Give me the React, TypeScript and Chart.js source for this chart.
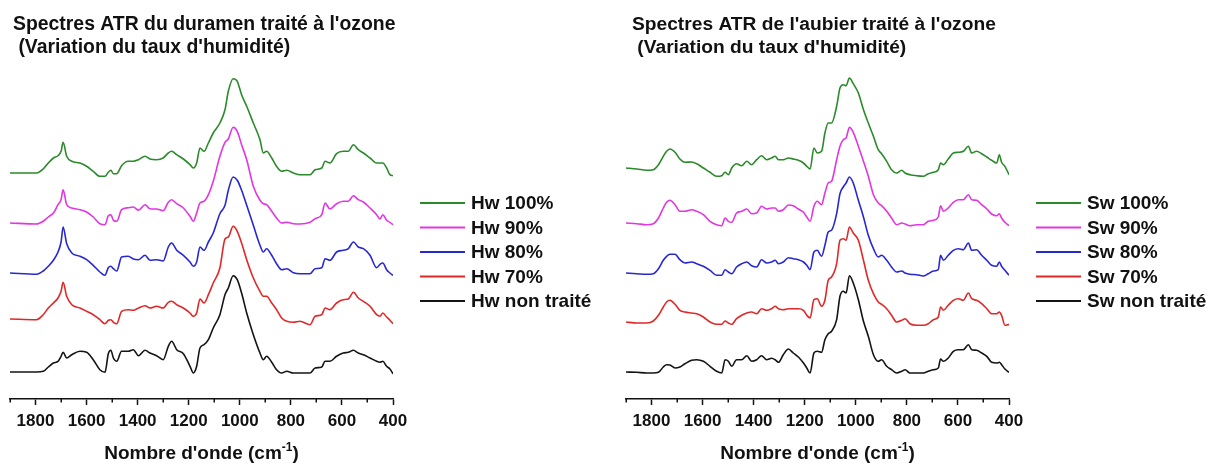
import React, { useEffect, useRef } from "react";
import { Chart, registerables } from "chart.js";

Chart.register(...registerables);

const FONT = '"Liberation Sans", Arial, Helvetica, sans-serif';

// ---------- axis ----------
const X_MIN = 400;
const X_MAX = 1900;
const MINOR_STEP = 100;
const MAJOR_STEP = 200;
const Y_MIN = 0;
const Y_MAX = 339;

// ---------- texts ----------
const titleLeft = ["Spectres ATR du duramen traité à l'ozone", " (Variation du taux d'humidité)"];
const titleRight = ["Spectres ATR de l'aubier traité à l'ozone", " (Variation du taux d'humidité)"];
const xTitleMain = "Nombre d'onde (cm";
const xTitleSup = "-1";
const xTitleEnd = ")";

const hwLabels = ["Hw 100%", "Hw 90%", "Hw 80%", "Hw 70%", "Hw non traité"];
const swLabels = ["Sw 100%", "Sw 90%", "Sw 80%", "Sw 70%", "Sw non traité"];
const seriesColors = ["#2b8a2b", "#e236e2", "#2828d2", "#e02828", "#141414"];

// ---------- heartwood (duramen) ----------
const waveLeft = [
  1900, 1796, 1770, 1750, 1730, 1712, 1700, 1692, 1678, 1658,
  1626, 1600, 1574, 1548, 1528, 1515, 1505, 1495, 1482, 1463,
  1437, 1417, 1397, 1371, 1352, 1326, 1300, 1280, 1267, 1247,
  1221, 1195, 1182, 1169, 1156, 1140, 1123, 1104, 1078, 1058,
  1045, 1026, 1010, 993, 973, 947, 921, 908, 895, 875,
  856, 836, 816, 790, 764, 725, 705, 679, 666, 647,
  621, 595, 575, 555, 536, 516, 490, 464, 451, 440,
  425, 412, 400,
];
const hw100 = [
  0, 0, 4, 10, 15, 17.3, 21.7, 30.7, 16.7, 11.7,
  10, 6.7, 1.7, -3.3, -3.3, 0.7, 2.7, -0.7, -0.7, 7.3,
  11.7, 11.7, 13.3, 16.7, 14, 13.3, 15, 20, 21.7, 18.3,
  14, 8.3, 5, 10, 25, 21.7, 30, 40, 50, 63.3,
  81.7, 94.3, 91.7, 78.3, 66.7, 50, 33.3, 20, 21.7, 15,
  6.7, 1.7, 2.7, 0, -1.7, -1.7, 3.3, 5, 11.7, 10,
  19.3, 21.7, 21.7, 28.3, 23.3, 20, 15, 10, 10, 10,
  5, -1.7, -2.7,
];
const hw90 = [
  0, -1, 1.7, 6, 10, 18.3, 23.3, 33.3, 18.3, 15,
  13.3, 11, 6, -0.7, -1.7, 7.3, 8.3, 2.7, 1.7, 13.3,
  15.3, 16, 12.7, 18.3, 14.3, 14, 12.3, 20.7, 23.3, 19.3,
  15, 6.7, 1.7, 10, 20, 21.7, 28.3, 41.7, 66.7, 80.7,
  84, 95.7, 91.7, 78.3, 63.3, 36.7, 22.7, 19.3, 18.3, 11.7,
  5, 0, 0.7, -0.7, -1, 0.7, 4.3, 8.3, 20, 14,
  19.3, 21.7, 21.7, 27.3, 23.3, 21, 15, 8.3, 4, 8.3,
  2.7, 0.7, -1.7,
];
const hw80 = [
  0, -1.3, 2, 6.7, 12.7, 21, 31, 46, 29.3, 20,
  16.7, 13.3, 7.7, 1, -2.3, 5.3, 6.7, 4.3, 2, 16,
  16.7, 14, 13.3, 17.7, 12.7, 13.3, 12, 26, 30, 22.7,
  17.7, 11, 6.7, 11, 26, 22.7, 31, 40, 59.3, 67.7,
  82.7, 96, 92.7, 82.7, 67.7, 47.7, 27.7, 21, 24.3, 17.7,
  9.3, 3.3, 4.3, 0.3, -0.7, -0.7, 4.3, 5.3, 14.3, 12.7,
  21, 22.7, 24.3, 31, 26, 24.3, 17.7, 5.3, 8.7, 10,
  3.3, 0, -2.3,
];
const hw70 = [
  0, -0.7, 4.3, 11, 16, 21, 27.7, 36.7, 22.7, 14.3,
  11, 7.7, 4.3, -0.7, -4.7, -1.3, -0.7, -3.3, -4.7, 7.7,
  9.3, 8.7, 11, 13.3, 11, 12.7, 11, 16.7, 17.7, 14.3,
  11, 6, 2.7, 6, 20, 16, 24.3, 36, 51, 80,
  82, 92.7, 87.7, 76, 59.3, 41, 27.7, 22.7, 22.7, 16,
  9.3, 1, -2.3, -3.3, -2.3, -5.7, 2.7, 4.3, 11, 9.3,
  16, 19.3, 20, 26.7, 21, 17.7, 12.7, 4.3, 2.7, 6,
  2, -1.3, -4.7,
];
const hwRaw = [
  0, 0, 0.7, 5, 9, 10.7, 15.7, 19.7, 14, 17.3,
  20.7, 19.7, 12.3, 2.3, -0.3, 18.3, 21.7, 14, 10.7, 20.7,
  20.7, 22.3, 16.3, 21.7, 19, 16.3, 12.3, 25.7, 30.7, 22.3,
  18.3, 5.7, -1, 5.7, 24, 27.3, 32.3, 44, 57.3, 77.3,
  84, 96.3, 92.3, 79, 59, 37.3, 19, 12.3, 15.7, 9.7,
  2.3, -1, 0.7, -1, -1, -1, 4, 5, 10.7, 10.7,
  15.7, 19, 19.7, 21.7, 19, 17.3, 14, 10.7, 9.7, 10.7,
  5.7, 3, -1.7,
];
const hwOffsets = [226, 176, 126, 80, 27];

// ---------- sapwood (aubier) ----------
const waveRight = [
  1900, 1858, 1819, 1793, 1773, 1754, 1741, 1728, 1708, 1689,
  1669, 1643, 1623, 1597, 1571, 1545, 1525, 1512, 1499, 1486,
  1467, 1447, 1427, 1408, 1388, 1369, 1349, 1330, 1316, 1303,
  1284, 1264, 1245, 1225, 1205, 1192, 1179, 1164, 1151, 1134,
  1121, 1108, 1095, 1075, 1062, 1049, 1038, 1025, 1010, 990,
  970, 951, 931, 912, 899, 879, 860, 840, 820, 807,
  788, 762, 736, 716, 696, 677, 668, 657, 638, 618,
  598, 579, 559, 546, 527, 507, 487, 468, 448, 438,
  429, 416, 400,
];
const sw100 = [
  0, -1, -2.3, -1.7, 3.3, 11.7, 16.7, 19, 15.7, 9,
  5.7, 6, 4.3, 0, -4.3, -8.3, -7.7, -4.3, -6.7, 0,
  4.3, 2.3, 6.7, 3.3, 8.3, 12.3, 8.3, 10, 11.7, 8.3,
  8.3, 10, 9, 7.7, 5, 1.7, -1, 20, 15, 16.7,
  35, 45, 45, 61.7, 80, 83.3, 82.3, 90, 84.3, 75,
  58.3, 45, 31.7, 18.3, 14.3, 6.7, -1.7, -5, -2.3, -5,
  -6.7, -7.7, -8.3, -5.7, -4.3, -1.7, 5, 3.3, 9, 15,
  15.7, 16.7, 21.7, 15, 16.7, 14.3, 11, 7.7, 5, 13.3,
  5.7, 1.7, -6.7,
];
const sw90 = [
  0, -0.7, -1.7, -0.7, 5, 15, 20.7, 22.7, 18.3, 11.7,
  11.7, 13.3, 11.7, 8.3, 1.7, -1.7, -2.7, 5, 1.7, 0.7,
  10, 11.7, 14, 9.3, 10, 16.7, 14, 15, 15, 11.7,
  13.3, 18, 17.3, 14, 10.7, 6, 1.7, 16.7, 21.7, 18.3,
  30, 40, 41.7, 63.3, 76.7, 83.3, 85, 95.7, 90.7, 76.7,
  61.7, 46.7, 28.3, 20, 17.3, 11.7, 5, -1.7, 0, -1,
  -2.7, -1.7, -1.7, 1.7, 2.7, 6, 17.3, 11.7, 15, 20.7,
  23.3, 23.3, 28.3, 23.3, 22.7, 18.3, 14, 9, 7.3, 9.3,
  5, 0.7, -2.7,
];
const sw80 = [
  0, -0.7, -1.3, -0.7, 4.3, 12.7, 16.7, 18.7, 18.7, 13.3,
  10, 11, 9.3, 6.7, 2.7, -2.3, -2.3, 3.3, 1, -0.7,
  6, 9.3, 11, 7.3, 6, 13.3, 10, 11, 12.7, 9.3,
  11, 15.3, 14.3, 13.3, 11, 7.7, 3.3, 21, 22.7, 16.7,
  27.7, 41, 42.7, 59.3, 79.3, 86, 90, 96, 90, 72.7,
  56, 37.7, 24.3, 16, 17.7, 12.7, 6, 1, 2, 0,
  -1.3, -1.7, -3, -0.7, 2, 3.3, 17.7, 12.7, 17.7, 22.7,
  24.3, 23.3, 30, 22.7, 23.3, 17.7, 12.7, 7.7, 6.7, 11,
  6.7, 2.7, -2.3,
];
const sw70 = [
  0, -1, -1, 1, 6.7, 15, 20, 21.7, 17.7, 11.7,
  10, 9, 8.3, 5, 0, -2.3, -2.3, 1, -1, -2.3,
  3.3, 6.7, 9, 10, 8.3, 13.3, 11.7, 13.3, 15.7, 13.3,
  12.3, 13.3, 13.3, 13.3, 11.7, 6.7, 4, 22.3, 23.3, 15.7,
  21.7, 41.7, 45, 58.3, 81.7, 83.3, 81.7, 95, 89, 81.7,
  61.7, 41.7, 28.3, 20, 17.7, 13.3, 6.7, 0, 1.7, 3.3,
  -1.7, -3.3, -3.3, -1.7, 2.3, 5, 15, 11.7, 16.7, 21.7,
  23.3, 21.7, 29, 23.3, 21.7, 18.3, 13.3, 8.3, 8.3, 10,
  6.7, -3.3, -2.3,
];
const swRaw = [
  0, -0.3, -1, -1, -0.3, 5, 7.3, 7, 4, 5,
  8.3, 11.7, 12.3, 10.7, 5.7, 0.7, -1, 12.3, 10.7, 5.7,
  12.3, 12.3, 16.3, 10.7, 12.3, 16.3, 12.3, 13.7, 12.3, 9.7,
  17.3, 23, 19, 15, 9, 4, -1, 19, 20.7, 19.7,
  32.3, 38.3, 40.7, 52.3, 75.7, 80.7, 79, 96.3, 89, 72.3,
  50.7, 35.7, 17.3, 10.7, 12.3, 5.7, 2.3, -1, 0.7, 2.3,
  -1, -1, -1, 0.7, 2.3, 4, 13, 10.7, 14, 20.7,
  22.3, 22.3, 27.3, 22.3, 21.7, 19, 15.7, 9.7, 9, 9.7,
  7.3, 3, -0.3,
];
const swOffsets = [231, 176, 126, 77, 27];

// ---------- decoration plugin (title, legend, minor ticks, axis title) ----------
const decorPlugin = {
  id: "panelDecor",
  afterDraw(chart: any, _args: any, opts: any) {
    const ctx: CanvasRenderingContext2D = chart.ctx;
    const area = chart.chartArea;
    const xs = chart.scales.x;
    ctx.save();

    // minor ticks
    ctx.strokeStyle = "#111";
    ctx.lineWidth = 1.5;
    for (let v = X_MIN; v <= X_MAX; v += MINOR_STEP) {
      if (v % MAJOR_STEP === 0) continue;
      const px = Math.round(xs.getPixelForValue(v)) + 0.25;
      ctx.beginPath();
      ctx.moveTo(px, area.bottom);
      ctx.lineTo(px, area.bottom + 3.5);
      ctx.stroke();
    }

    // title
    ctx.fillStyle = "#111";
    ctx.textAlign = "left";
    ctx.textBaseline = "alphabetic";
    ctx.font = `bold ${opts.titleSize}px ${FONT}`;
    (opts.title as string[]).forEach((t, i) => ctx.fillText(t, opts.titleX, 29.5 + i * 23));

    // legend
    ctx.font = `bold 19px ${FONT}`;
    ctx.textBaseline = "middle";
    chart.data.datasets.forEach((ds: any, i: number) => {
      const y = 203 + i * 24.5;
      ctx.strokeStyle = ds.borderColor;
      ctx.lineWidth = 2;
      ctx.beginPath();
      ctx.moveTo(area.right + 27, y);
      ctx.lineTo(area.right + 72, y);
      ctx.stroke();
      ctx.fillStyle = "#111";
      ctx.fillText(ds.label, area.right + 78, y + 1);
    });

    // x axis title with superscript
    ctx.textBaseline = "alphabetic";
    const bigFont = `bold 19px ${FONT}`;
    const supFont = `bold 12px ${FONT}`;
    ctx.font = bigFont;
    const w1 = ctx.measureText(xTitleMain).width;
    const w3 = ctx.measureText(xTitleEnd).width;
    ctx.font = supFont;
    const w2 = ctx.measureText(xTitleSup).width;
    const cx = (area.left + area.right) / 2;
    let x = cx - (w1 + w2 + w3) / 2;
    const base = 459;
    ctx.fillStyle = "#111";
    ctx.font = bigFont;
    ctx.fillText(xTitleMain, x, base);
    x += w1;
    ctx.font = supFont;
    ctx.fillText(xTitleSup, x, base - 8);
    x += w2;
    ctx.font = bigFont;
    ctx.fillText(xTitleEnd, x, base);

    ctx.restore();
  },
};

function buildConfig(
  waves: number[],
  series: number[][],
  offsets: number[],
  labels: string[],
  width: number,
  title: string[],
  titleX: number,
  titleSize: number
): any {
  const datasets = series.map((vals, i) => ({
    label: labels[i],
    data: vals.map((v, j) => ({ x: waves[j], y: v + offsets[i] })),
    borderColor: seriesColors[i],
    backgroundColor: seriesColors[i],
    borderWidth: 1.6,
    pointRadius: 0,
    cubicInterpolationMode: "monotone",
    fill: false,
  }));
  return {
    type: "line",
    data: { datasets },
    plugins: [decorPlugin],
    options: {
      animation: false,
      responsive: false,
      events: [],
      layout: { padding: { left: 10, right: width - 393, top: 60, bottom: 0 } },
      plugins: {
        legend: { display: false },
        title: { display: false },
        tooltip: { enabled: false },
        panelDecor: { title, titleX, titleSize },
      },
      scales: {
        x: {
          type: "linear",
          reverse: true,
          min: X_MIN,
          max: X_MAX,
          afterFit: (scale: any) => {
            scale.height = 64;
            scale.paddingLeft = 0;
            scale.paddingRight = 0;
          },
          ticks: {
            stepSize: MINOR_STEP,
            autoSkip: false,
            maxRotation: 0,
            minRotation: 0,
            padding: 6,
            color: "#111",
            font: { family: FONT, size: 17, weight: "bold" },
            callback: (v: any) => (Number(v) % MAJOR_STEP === 0 ? String(v) : ""),
          },
          grid: {
            display: true,
            drawOnChartArea: false,
            drawTicks: true,
            tickLength: 6,
            tickWidth: 1.5,
            tickColor: (c: any) =>
              c.tick && c.tick.value % MAJOR_STEP === 0 ? "#111" : "rgba(0,0,0,0)",
          },
          border: { display: true, color: "#111", width: 1.5 },
        },
        y: { display: false, min: Y_MIN, max: Y_MAX },
      },
    },
  };
}

function Panel(props: { left: number; width: number; cfg: () => any }) {
  const ref = useRef<HTMLCanvasElement | null>(null);
  useEffect(() => {
    if (!ref.current) return;
    const chart = new Chart(ref.current, props.cfg());
    return () => chart.destroy();
  }, []);
  return (
    <canvas
      ref={ref}
      width={props.width}
      height={463}
      style={{ position: "absolute", left: props.left, top: 0, width: props.width, height: 463 }}
    />
  );
}

export default function App() {
  return (
    <div
      style={{
        position: "absolute",
        left: 0,
        top: 0,
        width: 1209,
        height: 463,
        overflow: "hidden",
        background: "#ffffff",
      }}
    >
      <Panel
        left={0}
        width={616}
        cfg={() =>
          buildConfig(waveLeft, [hw100, hw90, hw80, hw70, hwRaw], hwOffsets, hwLabels, 616, titleLeft, 13, 19.4)
        }
      />
      <Panel
        left={616}
        width={593}
        cfg={() =>
          buildConfig(waveRight, [sw100, sw90, sw80, sw70, swRaw], swOffsets, swLabels, 593, titleRight, 16, 19.2)
        }
      />
    </div>
  );
}
